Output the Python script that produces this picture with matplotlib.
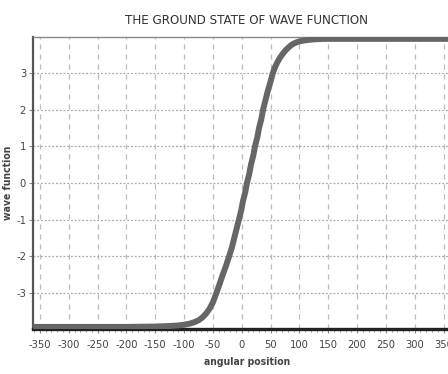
import matplotlib
matplotlib.use("Agg")
import matplotlib.pyplot as plt
from matplotlib.ticker import MultipleLocator

# values
angle = [-362, -200, -150, -125, -110, -100, -90, -82, -75, -68, -62, -56, -50, -44,
         -38, -33, -27, -22, -17, -13, -9, -5, -1, 2, 6, 9, 13, 16, 20, 23, 27, 30, 34, 37,
         41, 45, 50, 54, 58, 62, 66, 70, 75, 80, 85, 90, 95, 100, 108, 115, 122, 130, 140,
         150, 200, 380]
psi = [-3.92, -3.92, -3.91, -3.895, -3.88, -3.86, -3.83, -3.79, -3.74, -3.66, -3.56, -3.43, -3.25, -3.0,
       -2.73, -2.5, -2.24, -2.0, -1.75, -1.5, -1.25, -1.0, -0.75, -0.5, -0.25, 0.0, 0.25, 0.5, 0.75, 1.0, 1.25, 1.5, 1.75, 2.0,
       2.25, 2.5, 2.77, 3.0, 3.17, 3.3, 3.41, 3.5, 3.6, 3.68, 3.75, 3.8, 3.835, 3.86, 3.885, 3.9, 3.912, 3.92, 3.927,
       3.93, 3.93, 3.93]
x_ticks = list(range(-350, 351, 50))
y_ticks = [-3, -2, -1, 0, 1, 2, 3]

plt.rcParams['font.family'] = ['DejaVu Sans']
plt.rcParams['font.stretch'] = 'condensed'
plt.rcParams['axes.unicode_minus'] = False

fig = plt.figure(figsize=(4.48, 3.74), dpi=100)
ax = fig.add_axes([0.0737, 0.120, 0.955, 0.782])

ax.plot(angle, psi, color='#666666', linewidth=4.3, solid_capstyle='butt',
        solid_joinstyle='round', zorder=3)

ax.set_xlim(-362, 380)
ax.set_ylim(-3.98, 3.99)
ax.set_xticks(x_ticks)
ax.set_yticks(y_ticks)
ax.xaxis.set_minor_locator(MultipleLocator(10))

# grid: dashed verticals, dotted horizontals
for xv in x_ticks:
    ax.axvline(xv, color='#bbbbbb', linewidth=0.9, linestyle=(0, (4, 4)), zorder=1)
for yv in y_ticks:
    ax.axhline(yv, color='#aaaaaa', linewidth=0.9, linestyle=(0, (1.5, 1.5)), zorder=1)

ax.spines['left'].set_color('#555555')
ax.spines['left'].set_linewidth(1.6)
ax.spines['bottom'].set_color('#222222')
ax.spines['bottom'].set_linewidth(2.4)
ax.spines['top'].set_color('#888888')
ax.spines['top'].set_linewidth(1.0)
ax.spines['right'].set_visible(False)

ax.tick_params(axis='both', which='major', labelsize=8, labelcolor='#444444',
               color='#888888', length=3, width=0.8)
ax.tick_params(axis='x', which='minor', color='#888888', length=2, width=0.6)
ax.tick_params(axis='x', pad=5)
ax.tick_params(axis='y', pad=2)

ax.set_title('THE GROUND STATE OF WAVE FUNCTION', fontsize=9.5, color='#333333', pad=9)
ax.set_xlabel('angular position', fontsize=7.5, fontweight='bold', color='#444444', labelpad=5)
ax.set_ylabel('wave function', fontsize=7.5, fontweight='bold',
              color='#444444', labelpad=2)

fig.savefig('out.png', dpi=100)
